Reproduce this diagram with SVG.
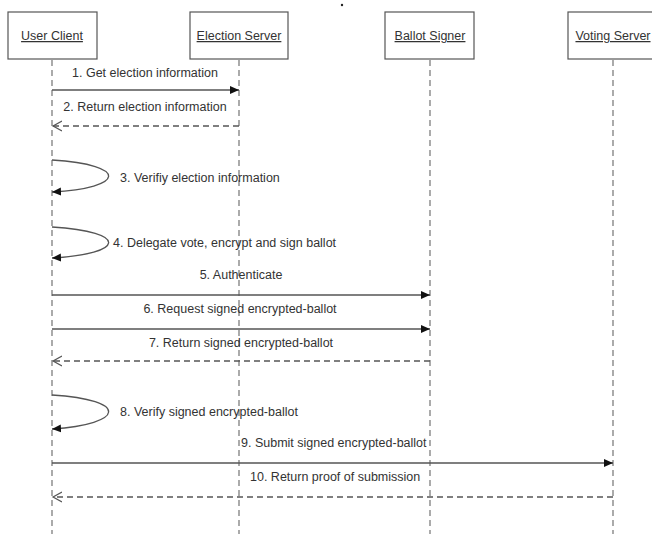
<svg xmlns="http://www.w3.org/2000/svg" width="652" height="534" viewBox="0 0 652 534">
<style>
.box{fill:#fff;stroke:#555;stroke-width:1.2}
.lbl{font-family:"Liberation Sans",Arial,sans-serif;font-size:12.5px;fill:#333;text-decoration:underline}
.life{stroke:#666;stroke-width:1.1;stroke-dasharray:6,4;fill:none}
.msg{stroke:#555;stroke-width:1.3;fill:none}
.ret{stroke:#555;stroke-width:1.3;fill:none;stroke-dasharray:6,4}
.t{font-family:"Liberation Sans",Arial,sans-serif;font-size:12.5px;fill:#333}
</style>
<defs>
<marker id="fill" markerWidth="10" markerHeight="10" refX="9" refY="5" orient="auto" markerUnits="userSpaceOnUse">
<path d="M0,1 L9,5 L0,9 Z" fill="#111"/>
</marker>
<marker id="open" markerWidth="12" markerHeight="12" refX="9" refY="6" orient="auto" markerUnits="userSpaceOnUse">
<path d="M0,1 L9,6 L0,11" fill="none" stroke="#555" stroke-width="1.2"/>
</marker>
</defs>
<rect width="652" height="534" fill="#fff"/>
<circle cx="342" cy="5" r="1.2" fill="#222"/>
<g id="user-client"><rect class="box" x="8" y="12" width="89" height="47"/><text class="lbl" x="52" y="40" text-anchor="middle">User Client</text><line class="life" x1="52" y1="60" x2="52" y2="534"/></g>
<g id="election-server"><rect class="box" x="190" y="12" width="98" height="47"/><text class="lbl" x="239" y="40" text-anchor="middle">Election Server</text><line class="life" x1="239" y1="60" x2="239" y2="534"/></g>
<g id="ballot-signer"><rect class="box" x="385" y="12" width="89" height="47"/><text class="lbl" x="430" y="40" text-anchor="middle">Ballot Signer</text><line class="life" x1="430" y1="60" x2="430" y2="534"/></g>
<g id="voting-server"><rect class="box" x="568" y="12" width="90" height="47"/><text class="lbl" x="613" y="40" text-anchor="middle">Voting Server</text><line class="life" x1="613" y1="60" x2="613" y2="534"/></g>
<g id="connectors">
<line class="msg" x1="52" y1="90" x2="239" y2="90" marker-end="url(#fill)"/>
<text class="t" x="145" y="77" text-anchor="middle">1. Get election information</text>
<line class="ret" x1="239" y1="126" x2="53" y2="126" marker-end="url(#open)"/>
<text class="t" x="145" y="111" text-anchor="middle">2. Return election information</text>
<path class="msg" d="M52,160 C130,165 125,188 52,192" marker-end="url(#fill)"/>
<text class="t" x="120" y="182">3. Verifiy election information</text>
<path class="msg" d="M52,227 C130,232 125,254 52,258" marker-end="url(#fill)"/>
<text class="t" x="113" y="247">4. Delegate vote, encrypt and sign ballot</text>
<line class="msg" x1="52" y1="295" x2="430" y2="295" marker-end="url(#fill)"/>
<text class="t" x="241" y="279" text-anchor="middle">5. Authenticate</text>
<line class="msg" x1="52" y1="329" x2="430" y2="329" marker-end="url(#fill)"/>
<text class="t" x="240" y="313" text-anchor="middle">6. Request signed encrypted-ballot</text>
<line class="ret" x1="430" y1="361" x2="53" y2="361" marker-end="url(#open)"/>
<text class="t" x="241" y="347" text-anchor="middle">7. Return signed encrypted-ballot</text>
<path class="msg" d="M52,395 C130,400 125,424 52,429" marker-end="url(#fill)"/>
<text class="t" x="120" y="416">8. Verify signed encrypted-ballot</text>
<line class="msg" x1="52" y1="463" x2="613" y2="463" marker-end="url(#fill)"/>
<text class="t" x="241" y="447">9. Submit signed encrypted-ballot</text>
<line class="ret" x1="613" y1="497" x2="53" y2="497" marker-end="url(#open)"/>
<text class="t" x="250" y="481">10. Return proof of submission</text>
</g>
</svg>
